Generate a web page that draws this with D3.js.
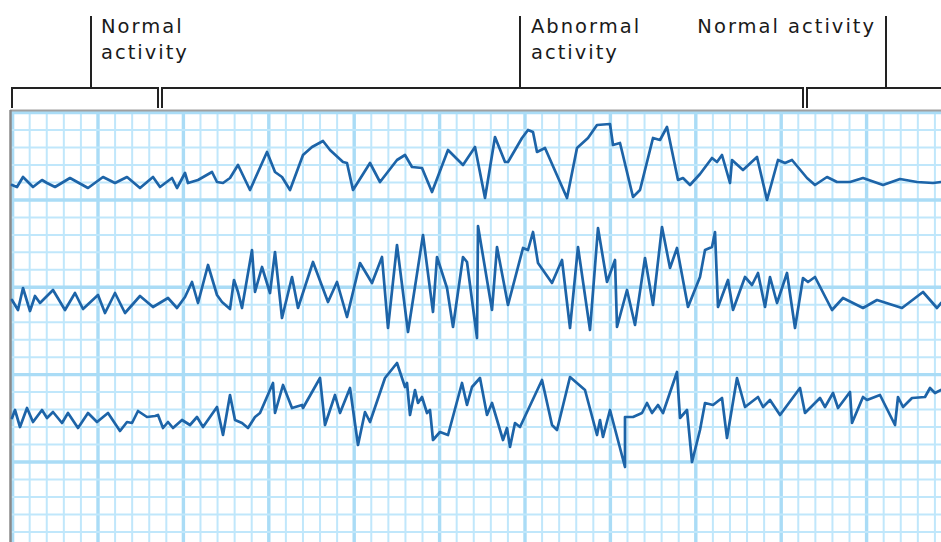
<!DOCTYPE html>
<html>
<head>
<meta charset="utf-8">
<script src="https://cdn.jsdelivr.net/npm/d3@7"></script>
<style>
  html, body { margin: 0; padding: 0; background: #fff; }
  svg { display: block; }
</style>
</head>
<body>
<script>
// page size
var width = 941;
var height = 542;

// three EEG channels: [time, amplitude]
var channel1 = [[2,-2],[7,-4],[13,6],[18,1],[23,-4],[32,3],[37,0],[45,-4],[60,5],[78,-5],[93,6],[105,0],[117,6],[130,-5],[143,6],[150,-4],[162,5],[167,-5],[175,10],[178,0],[188,3],[202,11],[207,1],[213,0],[220,5],[228,18],[240,-7],[257,31],[265,11],[272,6],[280,-7],[293,28],[302,36],[313,42],[320,33],[333,21],[337,20],[343,-7],[360,20],[370,1],[387,23],[395,28],[402,16],[412,15],[422,-9],[438,33],[453,18],[465,36],[475,-15],[485,46],[495,21],[498,21],[512,45],[518,53],[523,51],[527,31],[535,35],[557,-15],[567,35],[578,45],[587,58],[600,59],[603,38],[610,40],[623,-14],[630,-7],[643,45],[650,43],[657,56],[668,3],[673,5],[680,-2],[690,9],[702,25],[707,21],[712,28],[720,0],[722,23],[733,13],[747,26],[757,-17],[768,23],[775,20],[782,23],[797,5],[805,-2],[817,6],[827,1],[840,1],[853,5],[873,-2],[890,4],[907,1],[923,0],[931,1]];

var channel2 = [[2,0],[8,-10],[13,12],[20,-11],[25,4],[30,-3],[43,10],[55,-10],[65,7],[73,-9],[88,5],[95,-13],[105,7],[115,-13],[130,4],[143,-7],[158,2],[167,-8],[175,3],[182,18],[188,-3],[198,35],[207,5],[212,-2],[220,-9],[224,20],[228,8],[232,-8],[242,50],[245,8],[252,33],[260,7],[265,48],[272,-18],[282,23],[288,-8],[303,38],[318,-2],[327,18],[337,-17],[350,37],[362,17],[372,43],[378,-28],[387,55],[398,-32],[413,65],[423,-12],[427,43],[437,12],[443,-27],[453,43],[457,38],[467,-38],[468,74],[482,-10],[487,53],[498,-5],[513,52],[518,50],[523,68],[528,37],[542,17],[552,40],[560,-28],[568,53],[580,-30],[588,72],[597,18],[605,40],[607,-27],[617,10],[625,-25],[635,42],[643,-5],[652,73],[660,32],[667,52],[678,-7],[690,23],[695,50],[702,53],[705,68],[708,-7],[718,20],[723,-10],[735,23],[742,15],[748,27],[755,-7],[760,23],[767,-3],[777,27],[785,-28],[793,22],[798,18],[805,23],[822,-10],[833,2],[853,-8],[867,0],[892,-8],[913,8],[927,-8],[931,-3]];

var channel3 = [[2,-3],[5,5],[10,-12],[17,7],[23,-7],[32,5],[37,-3],[43,3],[52,-8],[58,2],[68,-13],[78,2],[87,-7],[98,2],[110,-16],[117,-7],[122,-8],[128,4],[137,-2],[145,-1],[148,0],[153,-13],[158,-7],[163,-13],[172,-5],[180,-10],[187,-2],[193,-12],[207,8],[213,-20],[220,20],[225,-5],[232,-8],[238,-13],[245,-2],[250,2],[263,32],[265,2],[273,30],[282,7],[292,10],[293,7],[310,37],[315,-10],[325,20],[330,2],[340,27],[348,-30],[355,3],[360,-7],[375,37],[387,52],[395,28],[397,32],[400,0],[405,25],[408,12],[412,18],[417,2],[420,5],[423,-25],[430,-17],[438,-20],[452,32],[457,10],[462,28],[470,37],[477,0],[482,12],[493,-25],[497,-13],[500,-32],[505,-8],[510,-12],[532,35],[542,-10],[547,-15],[560,38],[575,25],[587,-20],[590,-5],[593,-22],[600,5],[615,-52],[615,-2],[623,-2],[632,2],[637,12],[642,2],[648,10],[653,2],[667,43],[670,-3],[677,5],[682,-47],[690,-15],[695,12],[703,10],[712,17],[717,-23],[727,37],[735,8],[748,18],[753,8],[760,15],[770,0],[790,27],[795,2],[810,17],[815,8],[823,22],[828,7],[840,23],[842,-8],[853,18],[857,15],[870,20],[885,-10],[888,18],[893,8],[902,17],[915,18],[920,27],[925,22],[931,25]];

// activity periods: [start, end, label point]
var periods = [[2, 148, 81], [152, 793, 510], [797, 940, 876]];
var periodLabels = [['Normal', 'activity'], ['Abnormal', 'activity'], ['Normal activity']];
var labelAt = [91, 521, 866];

var x = d3.scaleLinear().domain([0, 931]).range([10, 941]);
var channelY = [183, 300, 415];

var svg = d3.select('body')
            .append('svg')
            .attr('width', width)
            .attr('height', height);

// paper grid
var gridTop = 112.6;
var cellW = 17.08, cellH = 17.47;
var grid = svg.append('g');
d3.range(0, 56).forEach(function(i){
  var gx = 12.6 + i * cellW;
  if (gx > width) return;
  grid.append('line')
      .attr('x1', gx).attr('x2', gx)
      .attr('y1', gridTop).attr('y2', height)
      .attr('stroke', i % 5 === 0 ? '#aadcf6' : '#c0e7fb')
      .attr('stroke-width', i % 5 === 0 ? 3.4 : 2);
});
d3.range(0, 26).forEach(function(i){
  var gy = gridTop + i * cellH;
  if (gy > height) return;
  grid.append('line')
      .attr('x1', 10).attr('x2', width)
      .attr('y1', gy).attr('y2', gy)
      .attr('stroke', i % 5 === 0 ? '#aadcf6' : '#c0e7fb')
      .attr('stroke-width', i % 5 === 0 ? 3.4 : 2);
});

// frame
svg.append('line')
   .attr('x1', 10).attr('x2', width).attr('y1', 110.5).attr('y2', 110.5)
   .attr('stroke', '#a0a0a0').attr('stroke-width', 2);
svg.append('line')
   .attr('x1', 10.5).attr('x2', 10.5).attr('y1', 110).attr('y2', height)
   .attr('stroke', '#8a8a8a').attr('stroke-width', 2.5);

// traces
[channel1, channel2, channel3].forEach(function(data, i){
  var y = d3.scaleLinear().domain([-60, 60]).range([channelY[i] + 60, channelY[i] - 60]);
  var line = d3.line()
               .x(function(d){ return x(d[0]); })
               .y(function(d){ return y(d[1]); });
  svg.append('path')
     .attr('d', line(data))
     .attr('fill', 'none')
     .attr('stroke', '#1d64a8')
     .attr('stroke-width', 2.7)
     .attr('stroke-linejoin', 'round')
     .attr('stroke-linecap', 'round');
});

// brackets
var brackets = svg.selectAll('g.bracket')
                  .data(periods)
                  .enter()
                  .append('g')
                  .attr('class', 'bracket')
                  .attr('stroke', '#222')
                  .attr('stroke-width', 2)
                  .attr('fill', 'none');

brackets.append('path')
        .attr('d', function(d){
          return 'M' + x(d[0]) + ',108V88H' + x(d[1]) + 'V108';
        });
brackets.append('line')
        .attr('x1', function(d){ return x(d[2]); })
        .attr('x2', function(d){ return x(d[2]); })
        .attr('y1', 88)
        .attr('y2', 16);

// labels
periodLabels.forEach(function(lines, i){
  var t = svg.append('text')
             .attr('x', x(labelAt[i]))
             .attr('y', 33)
             .attr('text-anchor', i === 2 ? 'end' : 'start')
             .attr('font-family', 'DejaVu Sans, Verdana, sans-serif')
             .attr('font-size', 19.5)
             .attr('letter-spacing', 2)
             .attr('fill', '#1a1a1a');
  lines.forEach(function(s, j){
    t.append('tspan')
     .attr('x', x(labelAt[i]))
     .attr('dy', j === 0 ? 0 : 26)
     .text(s);
  });
});
</script>
</body>
</html>
